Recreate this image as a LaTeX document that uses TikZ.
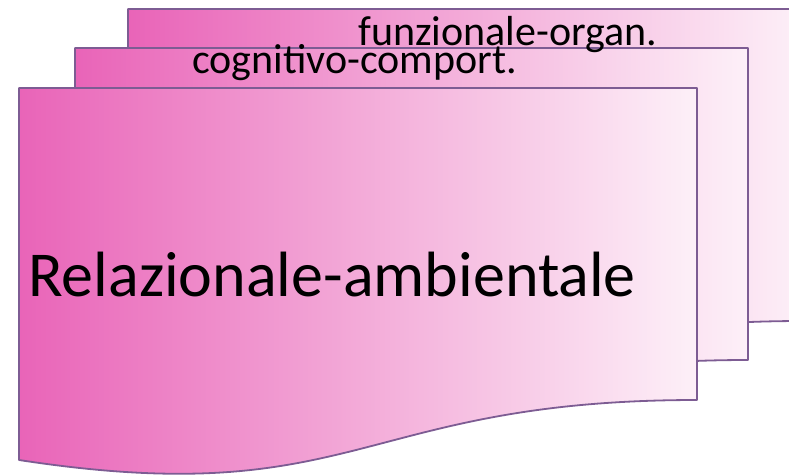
\documentclass[tikz,border=0pt]{standalone}
\usepackage{fontspec}
\setmainfont{Carlito}
\definecolor{docpink}{RGB}{233,100,184}
\definecolor{docwhite}{RGB}{253,240,248}
\definecolor{docline}{RGB}{125,92,147}
\tikzset{
  docshape/.style={draw=docline, line width=1.8pt, line join=round, left color=docpink, right color=docwhite, shading=axis, shading angle=90},
  doctext/.style={anchor=base west, inner sep=0pt, text=black}
}
\newcommand{\docpath}[4]{% left, top, right, name
  (#1,#2) -- (#3,#2) -- (#3,#2+312)
  .. controls ({(#1+#3)/2},#2+312) and ({(#1+#3)/2},#2+424) .. (#1,#2+372) -- cycle}
\begin{document}
\begin{tikzpicture}[x=1pt,y=-1pt]
\useasboundingbox (0,0) rectangle (789,474);
\begin{scope}
\clip (0,0) rectangle (789,474);
\path[docshape] \docpath{128}{9}{803}{back};
\path[docshape] \docpath{75}{48}{748}{mid};
\path[docshape] \docpath{19}{88}{697}{front};
\end{scope}
\node[doctext, font=\fontsize{42}{48}\selectfont] (t1) at (358,45) {funzionale-organ.};
\node[doctext, font=\fontsize{42}{48}\selectfont] (t2) at (192,73) {cognitivo-comport.};
\node[doctext, font=\fontsize{64}{70}\selectfont] (t3) at (28,296) {Relazionale-ambientale};
\end{tikzpicture}
\end{document}
